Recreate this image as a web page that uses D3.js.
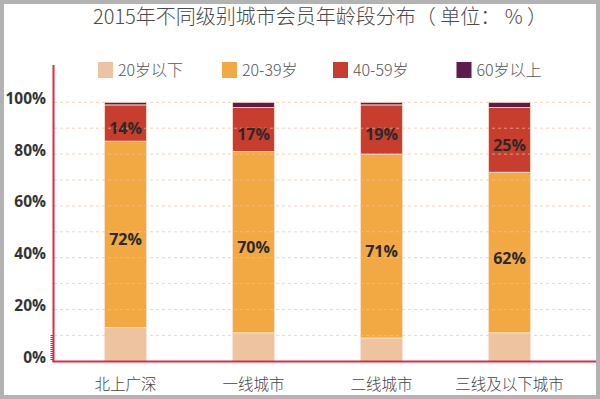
<!DOCTYPE html>
<html><head><meta charset="utf-8">
<script src="https://cdn.jsdelivr.net/npm/d3@7/dist/d3.min.js"></script>
<style>body{margin:0;background:#fff}svg{display:block}</style>
</head><body><svg id="c" width="600" height="399"></svg>
<script>
const categories = ["北上广深","一线城市","二线城市","三线及以下城市"];
const seriesNames = ["20岁以下","20-39岁","40-59岁","60岁以上"];
const under20 = [13, 11, 9, 11];
const age20to39 = [72, 70, 71, 62];
const age40to59 = [14, 17, 19, 25];
const over60 = [1, 2, 1, 2];
const yTicks = [0, 20, 40, 60, 80, 100];
const gridTicks = [10,20,30,40,50,60,70,80,90,100];
const colors = ["#EEC3A0","#F2A944","#C73D2E","#5F1B4D"];
const showLabel = [false, true, true, false];

const svg = d3.select("#c");
const font = "'Noto Sans CJK SC','Noto Sans',sans-serif";
const numFont = "'Open Sans','Noto Sans',sans-serif";

const data = categories.map((c,i)=>({cat:c, "20岁以下":under20[i], "20-39岁":age20to39[i], "40-59岁":age40to59[i], "60岁以上":over60[i]}));
const stack = d3.stack().keys(seriesNames)(data);

const x = d3.scaleBand().domain(categories).range([61.5, 573.5]).paddingInner(0.672).paddingOuter(0.336);
const y = d3.scaleLinear().domain([0,100]).range([361.3, 102.3]);

svg.append("rect").attr("x",0).attr("y",0).attr("width",600).attr("height",399).attr("fill","#fff");

// title
svg.append("text").attr("x",320).attr("y",24).attr("text-anchor","middle")
  .attr("font-family",font).attr("font-weight",300).attr("font-size",20).attr("fill","#4a4a4a")
  .text("2015年不同级别城市会员年龄段分布（ 单位： % ）");

// legend
const legX = [98, 222, 333, 456.5];
seriesNames.forEach((s,i)=>{
  const g = svg.append("g").attr("transform",`translate(${legX[i]},62)`);
  g.append("rect").attr("width",15).attr("height",16).attr("fill",colors[i]);
  g.append("text").attr("x",20).attr("y",14).attr("font-family",font).attr("font-weight",300)
    .attr("font-size",16).attr("fill","#555").text(s);
});

// bars
const layers = svg.append("g").selectAll("g").data(stack).join("g").attr("fill",(d,i)=>colors[i]);
layers.selectAll("rect").data(d=>d).join("rect")
  .attr("x",d=>x(d.data.cat)).attr("width",x.bandwidth())
  .attr("y",d=>y(d[1])).attr("height",d=>y(d[0])-y(d[1]))
  .attr("stroke","#fbe3d3").attr("stroke-width",0.8);

// gridlines
svg.append("g").selectAll("line").data(gridTicks).join("line")
  .attr("x1",54).attr("x2",594).attr("y1",d=>y(d)).attr("y2",d=>y(d))
  .attr("stroke","#f3c3a3").attr("stroke-width",1).attr("stroke-dasharray","3,3").attr("opacity",0.7);

// labels
stack.forEach((layer,li)=>{
  if(!showLabel[li]) return;
  svg.append("g").selectAll("text").data(layer).join("text")
    .attr("x",d=>x(d.data.cat)+x.bandwidth()/2)
    .attr("y",d=>(y(d[0])+y(d[1]))/2 + 11)
    .attr("text-anchor","middle").attr("font-family",numFont).attr("font-weight",700)
    .attr("font-size",16).attr("fill","#2a2a2a")
    .text(d=>Math.round(d[1]-d[0])+"%");
});

// y axis labels
const yAxis = d3.axisLeft(y).tickValues(yTicks).tickFormat(d=>d+"%").tickSize(0).tickPadding(0);
const ya = svg.append("g").attr("transform","translate(46,-4)").call(yAxis);
ya.select(".domain").remove();
ya.selectAll("text").attr("font-family",numFont).attr("font-weight",700).attr("font-size",15.5).attr("fill","#333");

// minor hatch on axis
svg.append("g").selectAll("line").data(d3.range(335,361,2)).join("line")
  .attr("x1",50.5).attr("x2",53).attr("y1",d=>d+0.5).attr("y2",d=>d+0.5)
  .attr("stroke","#333").attr("stroke-width",0.8);

// axis lines
svg.append("line").attr("x1",53.5).attr("x2",53.5).attr("y1",65).attr("y2",362).attr("stroke","#E0264A").attr("stroke-width",2);
svg.append("line").attr("x1",52.5).attr("x2",596).attr("y1",361.5).attr("y2",361.5).attr("stroke","#E0264A").attr("stroke-width",2.2);

// x labels
const xAxis = d3.axisBottom(x).tickSize(0).tickPadding(0);
const xa = svg.append("g").attr("transform","translate(0,390)").call(xAxis);
xa.select(".domain").remove();
xa.selectAll("text").attr("dy",0).attr("font-family",font).attr("font-weight",300).attr("font-size",15.5).attr("fill","#444");

// gray frame
svg.append("rect").attr("x",2).attr("y",2).attr("width",596).attr("height",395)
  .attr("fill","none").attr("stroke","#b3b3b3").attr("stroke-width",4);
</script></body></html>
